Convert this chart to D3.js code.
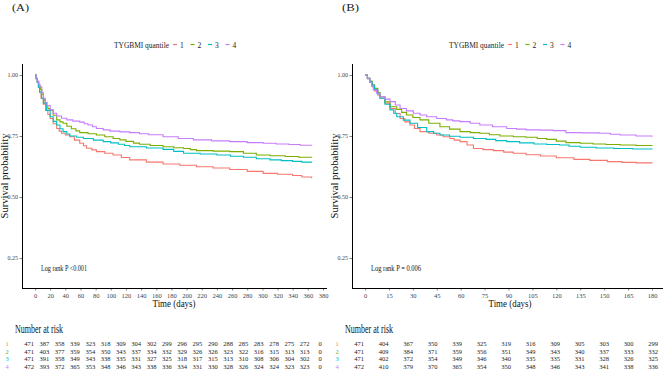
<!DOCTYPE html>
<html>
<head>
<meta charset="utf-8">
<script src="https://cdn.jsdelivr.net/npm/d3@7"></script>
<style>
  html, body { margin: 0; padding: 0; background: #fff; }
  svg { display: block; }
  svg text { font-family: "Liberation Serif", "Times New Roman", "DejaVu Serif", serif; }
</style>
</head>
<body>
<svg id="chart" width="669" height="380"></svg>
<script>
// ---------------- DATA ----------------
const groups = ["1", "2", "3", "4"];
const legendTitle = "TYGBMI quantile";
const yTicks = [0.25, 0.5, 0.75, 1.0];

// Panel A (0-365 days)
const ticksA = [0,20,40,60,80,100,120,140,160,180,200,220,240,260,280,300,320,340,360,380];
const kmA_q1 = [[0,1],[1.5,0.985],[3,0.97],[4.5,0.95],[6,0.93],[8,0.905],[11,0.88],[14,0.855],[17,0.838],[20,0.822],[24,0.8],[28.6,0.781],[32,0.77],[35,0.761],[40,0.754],[46,0.747],[52,0.733],[59,0.72],[64,0.71],[68,0.70],[75,0.693],[81,0.686],[92,0.679],[103,0.672],[114,0.662],[125,0.652],[147,0.643],[169,0.635],[191,0.63],[213,0.624],[235,0.619],[257,0.613],[280,0.605],[301,0.597],[320,0.593],[340,0.588],[352,0.582],[365,0.577]];
const kmA_q2 = [[0,1],[1.5,0.985],[3,0.97],[5,0.955],[7,0.94],[9,0.92],[11,0.90],[13,0.885],[15,0.87],[17,0.862],[20,0.855],[24,0.835],[28.6,0.816],[33,0.808],[37,0.802],[42,0.79],[48,0.78],[54,0.771],[59,0.764],[70,0.759],[81,0.754],[92,0.747],[103,0.74],[112,0.734],[120,0.728],[130,0.721],[138,0.716],[152,0.711],[169,0.706],[183,0.702],[196,0.699],[205,0.694],[213,0.69],[235,0.688],[257,0.686],[275,0.679],[292,0.672],[310,0.669],[330,0.666],[348,0.663],[365,0.661]];
const kmA_q3 = [[0,1],[1.5,0.985],[3,0.97],[4.5,0.95],[6,0.93],[8.5,0.905],[11,0.884],[15,0.855],[20,0.829],[24,0.81],[28.6,0.795],[33,0.78],[37,0.768],[42,0.758],[46,0.75],[55,0.745],[64,0.74],[77,0.733],[90,0.727],[100,0.722],[110,0.716],[118,0.711],[125,0.706],[147,0.701],[169,0.695],[183,0.687],[196,0.679],[218,0.676],[240,0.672],[258,0.667],[275,0.663],[292,0.657],[310,0.652],[325,0.649],[340,0.646],[352,0.643],[365,0.641]];
const kmA_q4 = [[0,1],[1.5,0.988],[3,0.975],[5,0.962],[6.6,0.952],[9,0.928],[11,0.904],[13.5,0.888],[16,0.875],[20,0.857],[24,0.843],[28.6,0.832],[35,0.823],[42,0.816],[50,0.811],[59,0.807],[65,0.8],[70,0.795],[76,0.788],[81,0.781],[90,0.775],[99,0.77],[112,0.767],[125,0.764],[138,0.759],[150,0.755],[169,0.747],[189,0.74],[209,0.734],[233,0.73],[257,0.727],[280,0.723],[301,0.72],[318,0.717],[335,0.715],[350,0.712],[365,0.71]];
const riskA_q1 = [471,387,358,339,323,318,309,304,302,299,296,295,290,288,285,283,278,275,272,0];
const riskA_q2 = [471,403,377,359,354,350,343,337,334,332,329,326,326,323,322,316,315,313,313,0];
const riskA_q3 = [471,391,358,349,343,338,335,331,327,325,318,317,315,313,310,308,306,304,302,0];
const riskA_q4 = [472,393,372,365,353,348,346,343,338,336,334,331,330,328,326,324,324,323,323,0];

// Panel B (0-180 days)
const ticksB = [0,15,30,45,60,75,90,105,120,135,150,165,180];
const kmB_q1 = [[0,1],[1.5,0.985],[3,0.97],[4.5,0.952],[6,0.935],[8,0.918],[9.4,0.905],[12.5,0.884],[15.7,0.863],[19,0.842],[22,0.822],[25,0.808],[28.2,0.795],[31,0.781],[34.5,0.768],[40,0.761],[44.9,0.754],[49,0.747],[53.3,0.74],[56,0.733],[59.6,0.727],[64,0.713],[68,0.699],[74,0.694],[80.5,0.69],[87,0.684],[93,0.679],[101,0.673],[110,0.668],[120,0.661],[131,0.654],[141,0.65],[152,0.645],[161,0.642],[170,0.64],[180,0.638]];
const kmB_q2 = [[0,1],[1.5,0.988],[3,0.975],[4.5,0.96],[6,0.945],[8,0.928],[9.4,0.911],[12.5,0.89],[15.7,0.87],[19.9,0.859],[23,0.847],[26,0.836],[30,0.826],[34.5,0.816],[40,0.802],[47,0.788],[53,0.778],[59.6,0.768],[66,0.764],[72,0.761],[78,0.755],[84.7,0.75],[93,0.747],[101,0.745],[108,0.74],[114,0.736],[120,0.729],[126,0.723],[135,0.72],[143,0.717],[151,0.715],[160,0.713],[170,0.711],[180,0.709]];
const kmB_q3 = [[0,1],[1.5,0.986],[3,0.972],[4.5,0.956],[6,0.94],[8,0.922],[9.4,0.905],[12.5,0.88],[15.7,0.857],[18,0.843],[19.9,0.829],[24,0.815],[28.2,0.802],[33,0.785],[38.7,0.768],[43,0.761],[47,0.754],[53,0.749],[59.6,0.745],[68,0.74],[76,0.736],[82,0.731],[88.9,0.727],[97,0.722],[106,0.717],[114,0.715],[122,0.713],[128,0.708],[135,0.704],[145,0.701],[156,0.699],[168,0.697],[180,0.695]];
const kmB_q4 = [[0,1],[1.5,0.985],[3,0.97],[4.2,0.955],[5.2,0.939],[7.3,0.925],[9.4,0.911],[12.5,0.901],[15.7,0.891],[19,0.877],[22,0.863],[26,0.853],[30.3,0.843],[34.5,0.836],[38.7,0.829],[45,0.822],[51,0.816],[55,0.812],[59.6,0.809],[66,0.802],[72,0.795],[80,0.788],[88.9,0.781],[95,0.778],[101,0.775],[110,0.774],[118,0.772],[126,0.764],[136,0.763],[147,0.761],[154,0.757],[160,0.754],[170,0.75],[180,0.747]];
const riskB_q1 = [471,404,367,350,339,325,319,316,309,305,303,300,299];
const riskB_q2 = [471,409,384,371,359,356,351,349,343,340,337,333,332];
const riskB_q3 = [471,402,372,354,349,346,340,335,335,331,328,326,325];
const riskB_q4 = [472,410,379,370,365,354,350,348,346,343,341,338,336];

// ---------------- STYLE ----------------
const FONT = "'Liberation Serif', 'Times New Roman', 'DejaVu Serif', serif";
const colors = ["#F8766D", "#7CAE00", "#00BFC4", "#C77CFF"];
const svg = d3.select("#chart");

function fit(sel, len) {
  return sel.attr("textLength", len).attr("lengthAdjust", "spacingAndGlyphs");
}

function drawPanel(p) {
  const g = svg.append("g");
  const x = d3.scaleLinear().domain([0, p.xMax]).range([p.x0, p.x1]);
  const y = d3.scaleLinear().domain([0.25, 1.0]).range([258, 75]);

  // panel label
  fit(g.append("text").attr("x", p.labelX).attr("y", 11).attr("font-size", 10.5)
    .attr("fill", "#222").text(p.label), 17);

  // legend
  const lg = g.append("g").attr("font-size", 7.5).attr("fill", "#222");
  fit(lg.append("text").attr("x", p.legendX).attr("y", 47.5).text(legendTitle), 55);
  let cx = p.legendX + 55 + 4;
  groups.forEach((gr, i) => {
    lg.append("line").attr("x1", cx).attr("x2", cx + 4).attr("y1", 44.5).attr("y2", 44.5)
      .attr("stroke", colors[i]).attr("stroke-width", 1.2);
    lg.append("text").attr("x", cx + 7).attr("y", 47.5).text(gr);
    cx += 17.5;
  });

  // axes
  const xAxis = d3.axisBottom(x).tickValues(p.ticks).tickSize(2.5).tickPadding(3).tickFormat(d3.format("d"));
  const ax = g.append("g").attr("transform", "translate(0,288)").call(xAxis);
  ax.attr("font-family", FONT);
  ax.select(".domain").remove();
  ax.append("line").attr("x1", p.axL).attr("x2", p.axR).attr("y1", 0.5).attr("y2", 0.5)
    .attr("stroke", "#000").attr("stroke-width", 1);
  ax.selectAll(".tick line").attr("stroke", "#333").attr("stroke-width", 0.6);
  ax.selectAll(".tick text").attr("font-size", 6.5).attr("fill", "#444");

  const yAxis = d3.axisLeft(y).tickValues(yTicks).tickSize(2.5).tickPadding(1.5).tickFormat(d3.format(".2f"));
  const ay = g.append("g").attr("transform", `translate(${p.axL},0)`).call(yAxis);
  ay.attr("font-family", FONT);
  ay.select(".domain").remove();
  ay.append("line").attr("x1", 0.5).attr("x2", 0.5).attr("y1", 64).attr("y2", 288.5)
    .attr("stroke", "#000").attr("stroke-width", 1);
  ay.selectAll(".tick line").attr("stroke", "#333").attr("stroke-width", 0.6);
  ay.selectAll(".tick text").attr("font-size", 6).attr("fill", "#444");

  // axis titles
  fit(g.append("text").attr("x", p.titleX).attr("y", 307).attr("text-anchor", "middle")
    .attr("font-size", 10).attr("fill", "#111").text("Time (days)"), 43);
  const yt = g.append("g").attr("transform", `translate(${p.axL - 14},176)`);
  fit(yt.append("text").attr("transform", "rotate(-90)").attr("x", 0).attr("y", 0)
    .attr("text-anchor", "middle").attr("font-size", 9.5).attr("fill", "#111")
    .text("Survival probability"), 85);

  // curves
  const line = d3.line().x(d => x(d[0])).y(d => y(d[1])).curve(d3.curveStepAfter);
  p.series.forEach((s, i) => {
    g.append("path").datum(s).attr("d", line).attr("fill", "none")
      .attr("stroke", colors[i]).attr("stroke-width", 1.1);
  });

  // log rank
  fit(g.append("text").attr("x", p.x0 + 6).attr("y", 271).attr("font-size", 7.5)
    .attr("fill", "#111").text(p.pText), p.pLen);

  // risk table
  const xr = d3.scaleLinear().domain([0, p.xMax]).range([p.r0, p.r1]);
  fit(g.append("text").attr("x", p.axL - 7).attr("y", 333).attr("font-size", 11.5)
    .attr("fill", "#111").text("Number at risk"), 48);
  const rowY = [346, 353.5, 361, 368.5];
  p.risk.forEach((row, i) => {
    g.append("text").attr("x", p.axL - 15).attr("y", rowY[i]).attr("font-size", 6.5)
      .attr("text-anchor", "middle").attr("fill", colors[i]).text(groups[i]);
    g.selectAll(null).data(row).enter().append("text")
      .attr("x", (d, j) => xr(p.ticks[j])).attr("y", rowY[i])
      .attr("text-anchor", "middle").attr("font-size", 6.5).attr("fill", "#222")
      .text(d => d);
  });
}

drawPanel({
  label: "(A)", labelX: 12, legendX: 114, titleX: 174,
  xMax: 380, x0: 35, x1: 323, axL: 22, axR: 327, ticks: ticksA,
  r0: 29, r1: 320,
  series: [kmA_q1, kmA_q2, kmA_q3, kmA_q4],
  risk: [riskA_q1, riskA_q2, riskA_q3, riskA_q4],
  pText: "Log rank P <0.001", pLen: 46
});
drawPanel({
  label: "(B)", labelX: 342, legendX: 449, titleX: 510,
  xMax: 180, x0: 365, x1: 652, axL: 352, axR: 663, ticks: ticksB,
  r0: 359, r1: 653,
  series: [kmB_q1, kmB_q2, kmB_q3, kmB_q4],
  risk: [riskB_q1, riskB_q2, riskB_q3, riskB_q4],
  pText: "Log rank P = 0.006", pLen: 50
});
svg.selectAll("text").attr("font-family", FONT);
</script>
</body>
</html>
